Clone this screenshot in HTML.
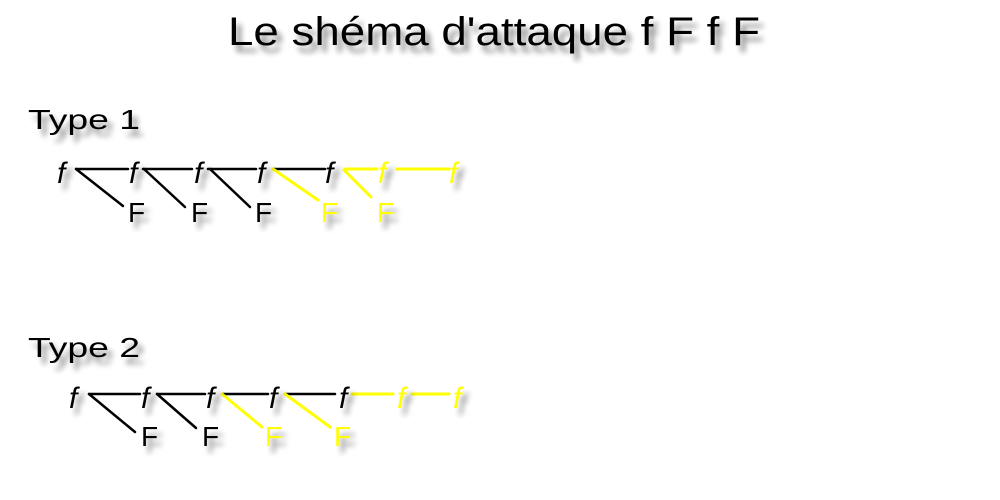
<!DOCTYPE html>
<html><head><meta charset="utf-8"><style>
html,body{margin:0;padding:0;background:#fff;}
svg{display:block;}
text{font-family:"Liberation Sans",sans-serif;}
</style></head><body>
<svg width="1000" height="500" viewBox="0 0 1000 500" xmlns="http://www.w3.org/2000/svg">
<defs>
<filter id="sh" x="-20%" y="-20%" width="160%" height="180%">
<feGaussianBlur in="SourceAlpha" stdDeviation="3"/>
<feOffset dx="5" dy="7" result="b"/>
<feComponentTransfer><feFuncA type="linear" slope="0.45"/></feComponentTransfer>
<feMerge><feMergeNode/><feMergeNode in="SourceGraphic"/></feMerge>
</filter>
</defs>
<g filter="url(#sh)">
<text x="228" y="45" font-size="40" textLength="532" lengthAdjust="spacingAndGlyphs">Le shéma d'attaque f F f F</text>
<text x="28" y="129" font-size="28" textLength="112" lengthAdjust="spacingAndGlyphs">Type 1</text>
<text x="28" y="357" font-size="28" textLength="112" lengthAdjust="spacingAndGlyphs">Type 2</text>
</g>
<g stroke-width="2.5" stroke-linecap="round">
<g stroke="#000">
<line x1="76" y1="169" x2="128" y2="169"/>
<line x1="143" y1="169" x2="192" y2="169"/>
<line x1="208" y1="169" x2="256" y2="169"/>
<line x1="273" y1="169" x2="325" y2="169"/>
<line x1="76" y1="169" x2="123" y2="206"/>
<line x1="144" y1="169" x2="185" y2="207"/>
<line x1="210" y1="169" x2="250" y2="207"/>
</g>
<g stroke="#ffff00" stroke-width="3">
<line x1="345" y1="169" x2="377" y2="169"/>
<line x1="397" y1="169" x2="449" y2="169"/>
<line x1="273" y1="169" x2="318" y2="200"/>
<line x1="344" y1="170" x2="371" y2="197"/>
</g>
<g stroke="#000">
<line x1="89" y1="394" x2="140" y2="394"/>
<line x1="157" y1="394" x2="205" y2="394"/>
<line x1="222" y1="394" x2="268" y2="394"/>
<line x1="285" y1="394" x2="335" y2="394"/>
<line x1="89" y1="394" x2="135" y2="432"/>
<line x1="157" y1="394" x2="196" y2="428"/>
</g>
<g stroke="#ffff00" stroke-width="3">
<line x1="352" y1="394" x2="393" y2="394"/>
<line x1="412" y1="394" x2="449" y2="394"/>
<line x1="222" y1="394" x2="262" y2="427"/>
<line x1="285" y1="394" x2="330" y2="427"/>
</g>
</g>
<g filter="url(#sh)" font-size="30">
<g font-style="italic">
<text x="57" y="183">f</text><text x="129" y="183">f</text><text x="194" y="183">f</text><text x="257" y="183">f</text><text x="325" y="183">f</text>
<text x="378" y="183" fill="#ffff00">f</text><text x="449" y="183" fill="#ffff00">f</text>
<text x="69" y="408">f</text><text x="141" y="408">f</text><text x="206" y="408">f</text><text x="269" y="408">f</text><text x="339" y="408">f</text>
<text x="397" y="408" fill="#ffff00">f</text><text x="453" y="408" fill="#ffff00">f</text>
</g>
<g font-size="28">
<text x="128" y="222">F</text><text x="191" y="222">F</text><text x="255" y="222">F</text>
<text x="321" y="222" fill="#ffff00">F</text><text x="377" y="222" fill="#ffff00">F</text>
<text x="141" y="446">F</text><text x="202" y="446">F</text>
<text x="265" y="446" fill="#ffff00">F</text><text x="334" y="446" fill="#ffff00">F</text>
</g>
</g>
</svg>
</body></html>
